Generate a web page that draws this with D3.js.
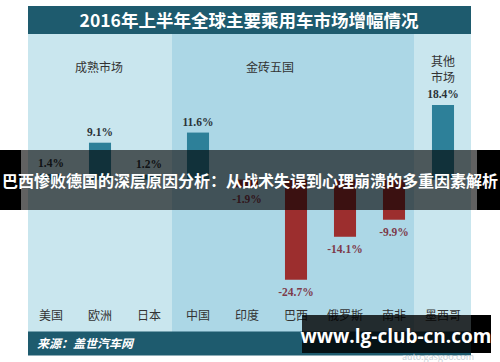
<!DOCTYPE html>
<html><head><meta charset="utf-8">
<script src="https://cdn.jsdelivr.net/npm/d3@7"></script>
<style>body{margin:0;background:#fff}svg{display:block}</style>
</head><body><svg id="c" width="500" height="362"></svg>
<script>
const categories = ["美国","欧洲","日本","中国","印度","巴西","俄罗斯","南非","墨西哥"];
const values = [1.4, 9.1, 1.2, 11.6, -1.9, -24.7, -14.1, -9.9, 18.4];
const groups = [
  {name:["成熟市场"], from:0, to:2},
  {name:["金砖五国"], from:3, to:7},
  {name:["其他","市场"], from:8, to:8}
];
const title = "2016年上半年全球主要乘用车市场增幅情况";
const source = "来源：盖世汽车网";
const banner = "巴西惨败德国的深层原因分析：从战术失误到心理崩溃的多重因素解析";
const watermark = "www.lg-club-cn.com";

const svg = d3.select("#c");
const L = 28, R = 471, T = 6;
const x = d3.scaleBand().domain(categories).range([26.5, 467.5]).paddingInner(0.55).paddingOuter(0.275);
const y = d3.scaleLinear().domain([0, 18.4]).range([179.6, 105]);
const sans = "'Noto Sans CJK SC','Noto Sans',sans-serif";
const serif = "'Liberation Serif','DejaVu Serif',serif";

// panels
const panelBounds = [[L,172],[172,414],[414,R]];
const panelColors = ["#c9e6ee","#acd7e6","#c9e6ee"];
groups.forEach((g,i)=>{
  svg.append("rect").attr("x",panelBounds[i][0]).attr("y",34).attr("width",panelBounds[i][1]-panelBounds[i][0]).attr("height",298).attr("fill",panelColors[i]);
});
// title bar
svg.append("rect").attr("x",L).attr("y",T).attr("width",R-L).attr("height",28).attr("fill","#1e5b6e");
svg.append("text").attr("x",249).attr("y",27).attr("text-anchor","middle").attr("fill","#fff")
  .attr("font-family",sans).attr("font-weight","bold").attr("font-size",17.5).text(title);
// footer
svg.append("rect").attr("x",L).attr("y",331.5).attr("width",R-L).attr("height",24).attr("fill","#1e5b6e");
svg.append("text").attr("x",37).attr("y",348).attr("fill","#fff").attr("font-style","italic")
  .attr("font-family",sans).attr("font-weight","bold").attr("font-size",12).text(source);
svg.append("text").attr("x",438).attr("y",360).attr("text-anchor","middle").attr("fill","#c8d2d8")
  .attr("font-family",sans).attr("font-size",9).text("auto.gasgoo.com");

// group labels
const groupCx = [99, 270, 443];
groups.forEach((g,i)=>{
  g.name.forEach((n,j)=>{
    svg.append("text").attr("x",groupCx[i]).attr("y",(g.name.length>1?66:72)+j*16).attr("text-anchor","middle")
      .attr("fill","#333").attr("font-family",sans).attr("font-size",12).text(n);
  });
});

// bars
const data = categories.map((c,i)=>({c, v:values[i]}));
svg.selectAll("rect.bar").data(data).enter().append("rect").attr("class","bar")
  .attr("x",d=>x(d.c)).attr("width",x.bandwidth())
  .attr("y",d=>y(Math.max(0,d.v))).attr("height",d=>Math.abs(y(d.v)-y(0)))
  .attr("fill",d=>d.v>=0?"#2d8099":"#9c2e2e");
svg.selectAll("text.val").data(data).enter().append("text").attr("class","val")
  .attr("x",d=>x(d.c)+x.bandwidth()/2)
  .attr("y",d=>d.v>=0?y(d.v)-7:y(d.v)+16)
  .attr("text-anchor","middle").attr("font-family",serif).attr("font-weight","bold").attr("font-size",11.5)
  .attr("fill",d=>d.v>=0?"#2b3338":"#7d3a4a")
  .text(d=>d.v.toFixed(1)+"%");

// category axis labels
const axis = d3.axisBottom(x).tickSize(0).tickPadding(0);
const ag = svg.append("g").attr("transform","translate(0,311)").call(axis);
ag.select(".domain").remove();
ag.selectAll("text").attr("font-family",sans).attr("font-size",12).attr("fill","#333").attr("dy","0.71em");

// banner overlay
svg.append("rect").attr("x",0).attr("y",150).attr("width",500).attr("height",60).attr("fill","#000").attr("opacity",0.62);
svg.append("rect").attr("x",0).attr("y",150).attr("width",21).attr("height",60).attr("fill","#000");
svg.append("rect").attr("x",477).attr("y",150).attr("width",23).attr("height",60).attr("fill","#000");
svg.append("text").attr("x",250).attr("y",187).attr("text-anchor","middle").attr("fill","#fff")
  .attr("font-family",sans).attr("font-weight","bold").attr("font-size",16).text(banner);

// watermark
svg.append("rect").attr("x",302).attr("y",315).attr("width",189).attr("height",38).attr("fill","#000").attr("opacity",0.8);
svg.append("rect").attr("x",471).attr("y",315).attr("width",20).attr("height",38).attr("fill","#000");
svg.append("text").attr("x",396).attr("y",343).attr("text-anchor","middle").attr("fill","#fff")
  .attr("font-family","'Open Sans','DejaVu Sans',sans-serif").attr("font-weight","bold").attr("font-size",19).text(watermark);
</script></body></html>
